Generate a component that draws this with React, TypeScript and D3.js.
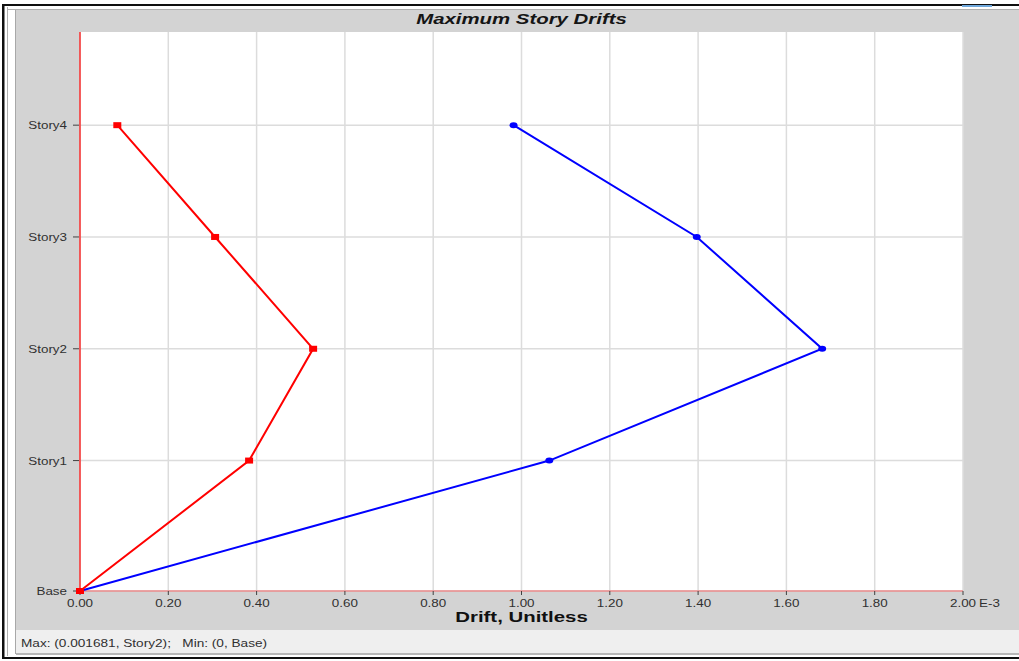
import React, { useEffect } from "react";
import * as d3 from "d3";

// Story levels (elevation in m) and their labels
const storyLabels = ["Base", "Story1", "Story2", "Story3", "Story4"];
const storyElevations = [0, 3.5, 6.5, 9.5, 12.5];

// Maximum story drifts, in units of 1e-3
const driftDirX = [0, 0.383, 0.528, 0.306, 0.0845];
const driftDirY = [0, 1.063, 1.681, 1.397, 0.982];

const xDomain = [0, 2];
const yDomain = [0, 15];

const W = 1019;
const H = 661;
const plot = { left: 80, right: 963, top: 32, bottom: 591 };

const SX = 1.22; // horizontal stretch of the small labels
const SXB = 1.36; // horizontal stretch of the headings

function Stretched({ x, y, sx, anchor = "middle", size, weight = "normal", italic = false, fill = "#303030", children }: any) {
  return (
    <g transform={`translate(${x},${y}) scale(${sx},1)`}>
      <text
        x={0}
        y={0}
        textAnchor={anchor}
        fontFamily="'Liberation Sans', Arial, sans-serif"
        fontSize={size}
        fontWeight={weight}
        fontStyle={italic ? "italic" : "normal"}
        fill={fill}
        style={{ whiteSpace: "pre" }}
      >
        {children}
      </text>
    </g>
  );
}

export default function App() {
  useEffect(() => {
    document.body.style.margin = "0";
  }, []);

  const x = d3.scaleLinear().domain(xDomain).range([plot.left, plot.right]);
  const y = d3.scaleLinear().domain(yDomain).range([plot.bottom, plot.top]);
  const xTicks = x.ticks(10);

  const line = d3
    .line<number>()
    .x((d) => x(d))
    .y((_, i) => y(storyElevations[i]));

  const midX = (plot.left + plot.right) / 2;

  return (
    <svg width={W} height={H} style={{ position: "absolute", left: 0, top: 0, display: "block" }}>
      {/* window frame */}
      <rect x={0} y={0} width={W} height={H} fill="#ffffff" />
      <rect x={16} y={10} width={W - 16} height={620} fill="#d3d3d3" />
      <rect x={16} y={630} width={W - 16} height={23} fill="#efefef" />
      <line x1={15.5} x2={15.5} y1={10} y2={654} stroke="#a8a8a8" />
      <line x1={7.5} x2={7.5} y1={7} y2={656} stroke="#b0b0b0" />
      <line x1={8} x2={W} y1={9.5} y2={9.5} stroke="#b0b0b0" />
      <line x1={16} x2={W} y1={654} y2={654} stroke="#a0a0a0" strokeWidth={1.5} />
      <rect x={2} y={4} width={2.5} height={654} fill="#101010" />
      <rect x={2} y={4} width={W - 2} height={2} fill="#101010" />
      <rect x={2} y={657} width={W - 2} height={2} fill="#101010" />
      <rect x={962} y={5} width={30} height={2} fill="#6fa8dc" />

      {/* title */}
      <Stretched x={midX} y={24} sx={SXB} size={15} weight="bold" italic fill="#151515">
        Maximum Story Drifts
      </Stretched>

      {/* plot area */}
      <rect x={plot.left} y={plot.top} width={plot.right - plot.left} height={plot.bottom - plot.top} fill="#ffffff" />

      {/* grid */}
      {xTicks.map((t) => (
        <line key={"gx" + t} x1={x(t)} x2={x(t)} y1={plot.top} y2={plot.bottom} stroke="#dcdcdc" strokeWidth={1.5} />
      ))}
      {storyElevations.map((e) => (
        <line key={"gy" + e} x1={plot.left} x2={plot.right} y1={y(e)} y2={y(e)} stroke="#dcdcdc" strokeWidth={1.5} />
      ))}

      {/* zero lines */}
      <line x1={plot.left} x2={plot.right} y1={y(0)} y2={y(0)} stroke="#f06060" strokeWidth={1} />
      <line x1={x(0)} x2={x(0)} y1={plot.top} y2={plot.bottom} stroke="#ff0000" strokeWidth={1.2} />

      {/* y axis ticks and labels */}
      {storyElevations.map((e, i) => (
        <g key={"yl" + e}>
          <line x1={plot.left - 7} x2={plot.left - 1} y1={y(e)} y2={y(e)} stroke="#404040" />
          <Stretched x={plot.left - 13} y={y(e) + 4} sx={SX} size={11} anchor="end">
            {storyLabels[i]}
          </Stretched>
        </g>
      ))}

      {/* x axis ticks and labels */}
      {xTicks.map((t) => (
        <g key={"xl" + t}>
          <line x1={x(t)} x2={x(t)} y1={plot.bottom} y2={plot.bottom + 4} stroke="#404040" />
          <Stretched x={x(t)} y={plot.bottom + 16} sx={SX} size={11}>
            {d3.format(".2f")(t)}
          </Stretched>
        </g>
      ))}
      <Stretched x={x(xDomain[1]) + 16} y={plot.bottom + 16} sx={SX} size={11} anchor="start">
        E-3
      </Stretched>

      <Stretched x={midX} y={622} sx={SXB} size={15} weight="bold" fill="#101010">
        Drift, Unitless
      </Stretched>

      {/* series */}
      <path d={line(driftDirY) ?? ""} fill="none" stroke="#0000ff" strokeWidth={2} />
      {driftDirY.map((d, i) => (
        <ellipse key={"by" + i} cx={x(d)} cy={y(storyElevations[i])} rx={4} ry={3} fill="#0000ff" />
      ))}
      <path d={line(driftDirX) ?? ""} fill="none" stroke="#ff0000" strokeWidth={2} />
      {driftDirX.map((d, i) => (
        <rect key={"rx" + i} x={x(d) - 4} y={y(storyElevations[i]) - 3} width={8} height={6} fill="#ff0000" />
      ))}

      {/* status bar */}
      <Stretched x={21} y={647} sx={1.24} size={11} anchor="start" fill="#303030">
        {"Max: (0.001681, Story2);   Min: (0, Base)"}
      </Stretched>
    </svg>
  );
}
